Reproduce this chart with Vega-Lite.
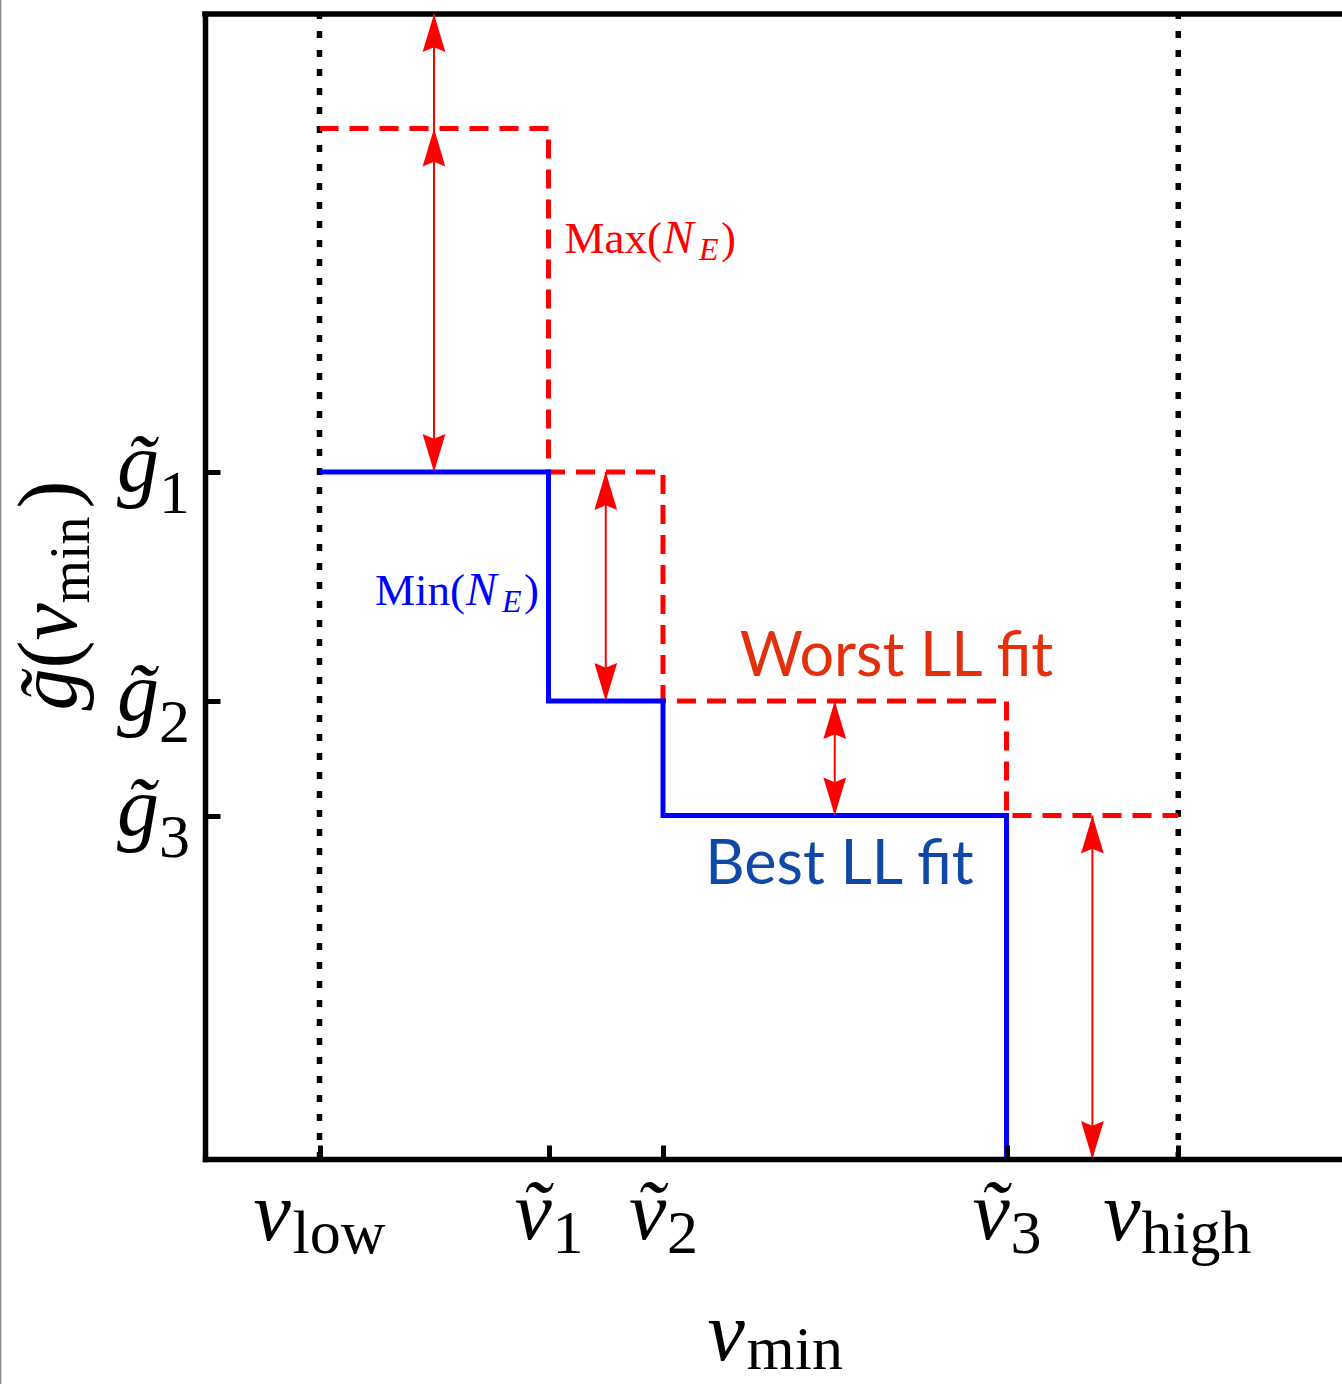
{
  "$schema": "https://vega.github.io/schema/vega-lite/v6.json",
  "width": 1137,
  "height": 1145,
  "autosize": {"type": "none"},
  "padding": {"left": 205, "top": 14, "right": 0, "bottom": 225},
  "background": "white",
  "config": {"view": {"stroke": null}},
  "datasets": {
    "frame": [{"x": 0, "x2": 99.3, "y": 10}],
    "edge": [{"x": -17.85, "y": -2, "y2": 10.2}],
    "steps": [
      {"series": "max", "step": 1, "x": 10, "y": 9},
      {"series": "max", "step": 2, "x": 30, "y": 9},
      {"series": "max", "step": 3, "x": 30, "y": 6},
      {"series": "max", "step": 4, "x": 40, "y": 6},
      {"series": "max", "step": 5, "x": 40, "y": 4},
      {"series": "max", "step": 6, "x": 70, "y": 4},
      {"series": "max", "step": 7, "x": 70, "y": 3},
      {"series": "max", "step": 8, "x": 85, "y": 3},
      {"series": "min", "step": 1, "x": 10, "y": 6},
      {"series": "min", "step": 2, "x": 30, "y": 6},
      {"series": "min", "step": 3, "x": 30, "y": 4},
      {"series": "min", "step": 4, "x": 40, "y": 4},
      {"series": "min", "step": 5, "x": 40, "y": 3},
      {"series": "min", "step": 6, "x": 70, "y": 3},
      {"series": "min", "step": 7, "x": 70, "y": 0}
    ],
    "bounds": [{"x": 10, "y": 0, "y2": 10}, {"x": 85, "y": 0, "y2": 10}],
    "arrows": [
      {"x": 20, "y": 6, "y2": 10},
      {"x": 35, "y": 4, "y2": 6},
      {"x": 55, "y": 3, "y2": 4},
      {"x": 77.5, "y": 0, "y2": 3}
    ],
    "heads": [
      {"x": 20, "y": 10, "dir": "up"},
      {"x": 20, "y": 9, "dir": "up"},
      {"x": 20, "y": 6, "dir": "down"},
      {"x": 35, "y": 6, "dir": "up"},
      {"x": 35, "y": 4, "dir": "down"},
      {"x": 55, "y": 4, "dir": "up"},
      {"x": 55, "y": 3, "dir": "down"},
      {"x": 77.5, "y": 3, "dir": "up"},
      {"x": 77.5, "y": 0, "dir": "down"}
    ],
    "xlab": [
      {"x": 10, "y": 0, "grp": "low", "main": "v", "sub": "low"},
      {"x": 30, "y": 0, "grp": "tilde", "main": "v\u0303", "sub": "1"},
      {"x": 40, "y": 0, "grp": "tilde", "main": "v\u0303", "sub": "2"},
      {"x": 70, "y": 0, "grp": "tilde", "main": "v\u0303", "sub": "3"},
      {"x": 85, "y": 0, "grp": "high", "main": "v", "sub": "high"}
    ],
    "ylab": [
      {"x": 0, "y": 6, "main": "g\u0303", "sub": "1"},
      {"x": 0, "y": 4, "main": "g\u0303", "sub": "2"},
      {"x": 0, "y": 3, "main": "g\u0303", "sub": "3"}
    ],
    "xtitle": [{"x": 50, "y": 0}],
    "ytitle": [{"x": 0, "y": 5}],
    "notes": [
      {"x": 40.0, "y": 7.91, "head": "Max(", "series": "max"},
      {"x": 22.8, "y": 4.84, "head": "Min(", "series": "min"}
    ],
    "fits": [
      {"x": 46.7, "y": 4.22, "label": "Worst LL fit", "series": "worst"},
      {"x": 43.7, "y": 2.4, "label": "Best LL fit", "series": "best"}
    ]
  },
  "encoding": {
    "x": {
      "field": "x", "type": "quantitative",
      "scale": {"domain": [0, 99.3], "nice": false, "zero": false},
      "axis": {"values": [10, 30, 40, 70, 85], "labels": false, "title": null, "grid": false,
               "tickSize": -14, "tickWidth": 5, "tickColor": "#000000",
               "domainColor": "#000000", "domainWidth": 5.5, "domainCap": "square", "zindex": 1}
    },
    "y": {
      "field": "y", "type": "quantitative",
      "scale": {"domain": [0, 10], "nice": false, "zero": false},
      "axis": {"values": [3, 4, 6], "labels": false, "title": null, "grid": false,
               "tickSize": -15, "tickWidth": 5, "tickColor": "#000000",
               "domainColor": "#000000", "domainWidth": 5.5, "domainCap": "square", "zindex": 1}
    }
  },
  "layer": [
    {
      "data": {"name": "edge"},
      "mark": {"type": "rule", "color": "#8c8c8c", "strokeWidth": 1.5},
      "encoding": {"y2": {"field": "y2"}}
    },
    {
      "data": {"name": "frame"},
      "mark": {"type": "rule", "color": "#000000", "strokeWidth": 5.5, "strokeCap": "square"},
      "encoding": {"x2": {"field": "x2"}}
    },
    {
      "data": {"name": "bounds"},
      "mark": {"type": "rule", "color": "#000000", "strokeWidth": 5.5, "strokeDash": [7, 12]},
      "encoding": {"y2": {"field": "y2"}}
    },
    {
      "data": {"name": "arrows"},
      "mark": {"type": "rule", "color": "#ff0000", "strokeWidth": 2},
      "encoding": {"y2": {"field": "y2"}}
    },
    {
      "data": {"name": "steps"},
      "mark": {"type": "line", "strokeWidth": 5, "strokeJoin": "miter", "strokeCap": "butt"},
      "encoding": {
        "order": {"field": "step", "type": "quantitative"},
        "color": {"field": "series", "type": "nominal",
                  "scale": {"domain": ["max", "min", "worst", "best"], "range": ["#ff0000", "#0000ff", "#e2300c", "#1048a8"]},
                  "legend": null},
        "strokeDash": {"field": "series", "type": "nominal",
                       "scale": {"domain": ["max", "min"], "range": [[19, 11], [1, 0]]},
                       "legend": null}
      }
    },
    {
      "data": {"name": "heads"},
      "mark": {"type": "point", "filled": true, "color": "#ff0000", "opacity": 1, "size": 1444, "strokeWidth": 0},
      "encoding": {
        "shape": {"field": "dir", "type": "nominal",
                  "scale": {"domain": ["up", "down"], "range": ["M0,0L0.6,2L0,1.75L-0.6,2Z", "M0,0L0.6,-2L0,-1.75L-0.6,-2Z"]},
                  "legend": null}
      }
    },
    {
      "data": {"name": "xlab"},
      "transform": [{"filter": "datum.grp === 'low'"}],
      "mark": {"type": "text", "align": "left", "baseline": "alphabetic", "font": "Liberation Serif", "fontStyle": "italic", "fontSize": 84, "dx": -66, "dy": 81, "color": "#000000"},
      "encoding": {"text": {"field": "main"}}
    },
    {
      "data": {"name": "xlab"},
      "transform": [{"filter": "datum.grp === 'low'"}],
      "mark": {"type": "text", "align": "left", "baseline": "alphabetic", "font": "Liberation Serif", "fontSize": 62, "dx": -27, "dy": 94, "color": "#000000"},
      "encoding": {"text": {"field": "sub"}}
    },
    {
      "data": {"name": "xlab"},
      "transform": [{"filter": "datum.grp === 'tilde'"}],
      "mark": {"type": "text", "align": "left", "baseline": "alphabetic", "font": "Liberation Serif", "fontStyle": "italic", "fontSize": 84, "dx": -34, "dy": 81, "color": "#000000"},
      "encoding": {"text": {"field": "main"}}
    },
    {
      "data": {"name": "xlab"},
      "transform": [{"filter": "datum.grp === 'tilde'"}],
      "mark": {"type": "text", "align": "left", "baseline": "alphabetic", "font": "Liberation Serif", "fontSize": 62, "dx": 4, "dy": 94, "color": "#000000"},
      "encoding": {"text": {"field": "sub"}}
    },
    {
      "data": {"name": "xlab"},
      "transform": [{"filter": "datum.grp === 'high'"}],
      "mark": {"type": "text", "align": "left", "baseline": "alphabetic", "font": "Liberation Serif", "fontStyle": "italic", "fontSize": 84, "dx": -75, "dy": 81, "color": "#000000"},
      "encoding": {"text": {"field": "main"}}
    },
    {
      "data": {"name": "xlab"},
      "transform": [{"filter": "datum.grp === 'high'"}],
      "mark": {"type": "text", "align": "left", "baseline": "alphabetic", "font": "Liberation Serif", "fontSize": 62, "dx": -37, "dy": 94, "color": "#000000"},
      "encoding": {"text": {"field": "sub"}}
    },
    {
      "data": {"name": "ylab"},
      "mark": {"type": "text", "align": "left", "baseline": "alphabetic", "font": "Liberation Serif", "fontStyle": "italic", "fontSize": 84, "dx": -88, "dy": 19, "color": "#000000"},
      "encoding": {"text": {"field": "main"}}
    },
    {
      "data": {"name": "ylab"},
      "mark": {"type": "text", "align": "left", "baseline": "alphabetic", "font": "Liberation Serif", "fontSize": 62, "dx": -46, "dy": 41, "color": "#000000"},
      "encoding": {"text": {"field": "sub"}}
    },
    {
      "data": {"name": "xtitle"},
      "mark": {"type": "text", "text": "v", "align": "left", "baseline": "alphabetic", "font": "Liberation Serif", "fontStyle": "italic", "fontSize": 84, "dx": -70, "dy": 201, "color": "#000000"}
    },
    {
      "data": {"name": "xtitle"},
      "mark": {"type": "text", "text": "min", "align": "left", "baseline": "alphabetic", "font": "Liberation Serif", "fontSize": 62, "dx": -31, "dy": 210, "color": "#000000"}
    },
    {
      "data": {"name": "ytitle"},
      "mark": {"type": "text", "text": "g\u0303", "angle": 270, "align": "left", "baseline": "alphabetic", "font": "Liberation Serif", "fontStyle": "italic", "fontSize": 84, "dx": -124, "dy": -129, "color": "#000000"}
    },
    {
      "data": {"name": "ytitle"},
      "mark": {"type": "text", "text": "(", "angle": 270, "align": "left", "baseline": "alphabetic", "font": "Liberation Serif", "fontSize": 84, "dx": -82, "dy": -129, "color": "#000000"}
    },
    {
      "data": {"name": "ytitle"},
      "mark": {"type": "text", "text": "v", "angle": 270, "align": "left", "baseline": "alphabetic", "font": "Liberation Serif", "fontStyle": "italic", "fontSize": 84, "dx": -54, "dy": -129, "color": "#000000"}
    },
    {
      "data": {"name": "ytitle"},
      "mark": {"type": "text", "text": "min", "angle": 270, "align": "left", "baseline": "alphabetic", "font": "Liberation Serif", "fontSize": 56, "dx": -17, "dy": -116, "color": "#000000"}
    },
    {
      "data": {"name": "ytitle"},
      "mark": {"type": "text", "text": ")", "angle": 270, "align": "left", "baseline": "alphabetic", "font": "Liberation Serif", "fontSize": 84, "dx": 78, "dy": -129, "color": "#000000"}
    },
    {
      "data": {"name": "notes"},
      "mark": {"type": "text", "align": "right", "baseline": "alphabetic", "font": "Liberation Serif", "fontSize": 45, "dx": -1},
      "encoding": {
        "text": {"field": "head"},
        "color": {"field": "series", "type": "nominal",
                  "scale": {"domain": ["max", "min", "worst", "best"], "range": ["#ff0000", "#0000ff", "#e2300c", "#1048a8"]},
                  "legend": null}
      }
    },
    {
      "data": {"name": "notes"},
      "mark": {"type": "text", "text": "N", "align": "left", "baseline": "alphabetic", "font": "Liberation Serif", "fontStyle": "italic", "fontSize": 46, "dx": 0},
      "encoding": {
        "color": {"field": "series", "type": "nominal",
                  "scale": {"domain": ["max", "min", "worst", "best"], "range": ["#ff0000", "#0000ff", "#e2300c", "#1048a8"]},
                  "legend": null}
      }
    },
    {
      "data": {"name": "notes"},
      "mark": {"type": "text", "text": "E", "align": "left", "baseline": "alphabetic", "font": "Liberation Serif", "fontStyle": "italic", "fontSize": 32, "dx": 36, "dy": 7},
      "encoding": {
        "color": {"field": "series", "type": "nominal",
                  "scale": {"domain": ["max", "min", "worst", "best"], "range": ["#ff0000", "#0000ff", "#e2300c", "#1048a8"]},
                  "legend": null}
      }
    },
    {
      "data": {"name": "notes"},
      "mark": {"type": "text", "text": ")", "align": "left", "baseline": "alphabetic", "font": "Liberation Serif", "fontSize": 45, "dx": 58},
      "encoding": {
        "color": {"field": "series", "type": "nominal",
                  "scale": {"domain": ["max", "min", "worst", "best"], "range": ["#ff0000", "#0000ff", "#e2300c", "#1048a8"]},
                  "legend": null}
      }
    },
    {
      "data": {"name": "fits"},
      "mark": {"type": "text", "align": "left", "baseline": "alphabetic", "font": "Lato", "fontSize": 61},
      "encoding": {
        "text": {"field": "label"},
        "color": {"field": "series", "type": "nominal",
                  "scale": {"domain": ["max", "min", "worst", "best"], "range": ["#ff0000", "#0000ff", "#e2300c", "#1048a8"]},
                  "legend": null}
      }
    }
  ]
}
